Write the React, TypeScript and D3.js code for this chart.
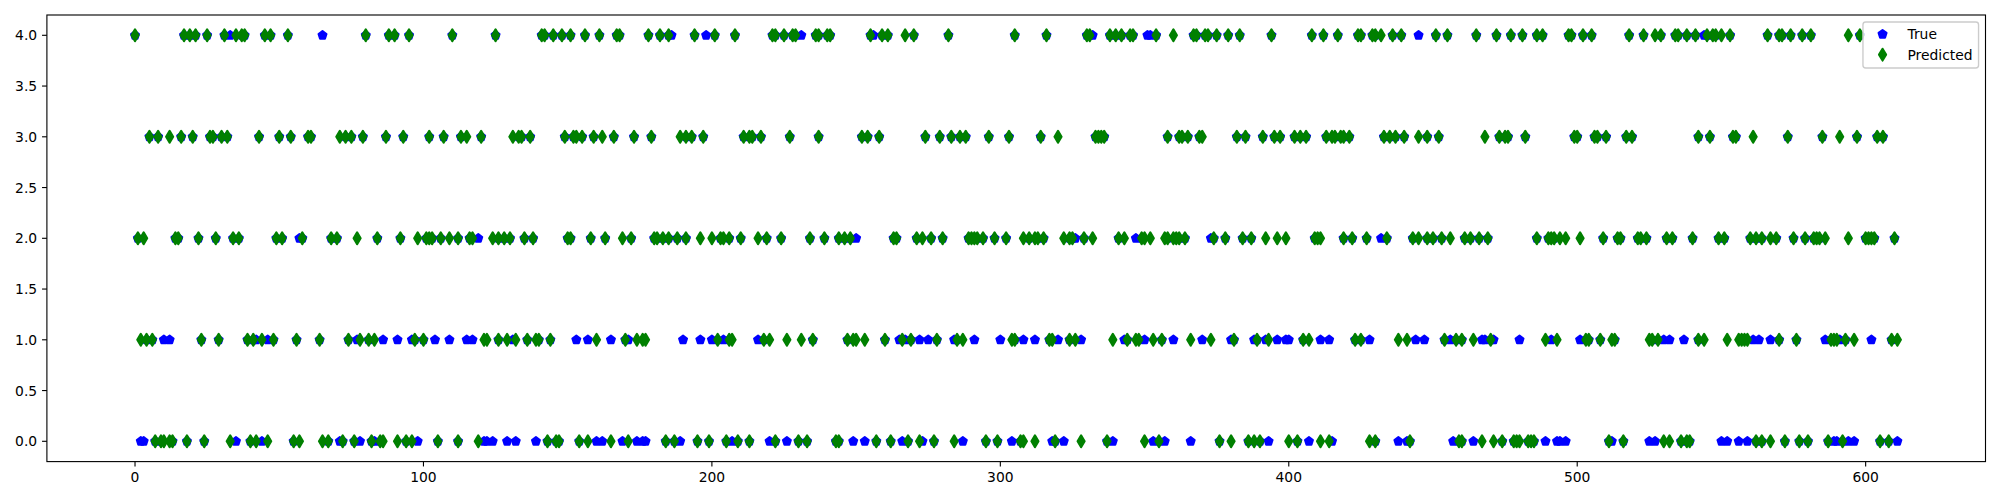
import React from 'react';
import * as d3 from 'd3';

// predicted class per sample index (green diamonds)
const pred0 = [7, 9, 10, 12, 13, 18, 24, 33, 40, 42, 46, 55, 57, 65, 67, 72, 76, 82, 85, 86, 91, 94, 96,
  105, 112, 119, 143, 146, 147, 154, 157, 165, 171, 184, 187, 195, 199, 205, 209, 213, 222, 230, 233, 243, 244,
  257, 262, 268, 272, 277, 284, 295, 299, 307, 308, 312, 319, 328, 337, 350, 355, 376, 380, 386, 388, 390, 400,
  403, 411, 414, 428, 430, 442, 459, 460, 467, 471, 474, 478, 479, 480, 483, 484, 485, 511, 516, 530, 532, 536,
  538, 539, 562, 564, 567, 572, 577, 580, 587, 592, 605, 608];
const pred1 = [2, 4, 6, 23, 29, 39, 41, 44, 48, 56, 64, 74, 78, 81, 83, 97, 100, 121, 122, 126, 129, 132, 136,
  139, 140, 144, 160, 170, 174, 176, 177, 202, 206, 207, 218, 220, 226, 231, 235, 247, 249, 250, 253, 260, 266,
  269, 278, 285, 287, 304, 305, 317, 318, 324, 326, 339, 344, 347, 348, 353, 356, 366, 373, 381, 389, 393, 405,
  407, 423, 425, 438, 441, 454, 458, 460, 464, 470, 489, 493, 503, 504, 508, 512, 513, 525, 526, 528, 542, 544,
  552, 556, 557, 558, 559, 570, 576, 588, 589, 590, 593, 596, 609, 611];
const pred2 = [1, 3, 14, 15, 22, 28, 34, 36, 49, 51, 58, 68, 70, 77, 84, 92, 98, 101, 102, 103, 106, 109, 112,
  116, 117, 124, 126, 128, 130, 135, 138, 150, 151, 158, 163, 169, 172, 180, 181, 183, 185, 188, 191, 196, 200,
  203, 204, 206, 210, 216, 219, 224, 234, 239, 244, 246, 248, 263, 264, 271, 273, 276, 280, 289, 290, 291, 292,
  294, 298, 302, 308, 310, 312, 313, 315, 322, 324, 325, 329, 332, 341, 343, 349, 350, 352, 357, 358, 360, 361,
  362, 364, 374, 378, 384, 387, 392, 396, 399, 409, 410, 411, 419, 422, 427, 434, 443, 445, 448, 450, 453, 456,
  461, 463, 466, 469, 486, 490, 491, 492, 494, 496, 501, 509, 514, 515, 521, 522, 524, 531, 533, 540, 549, 551,
  560, 562, 564, 567, 569, 575, 579, 582, 583, 584, 586, 594, 600, 601, 602, 603, 610];
const pred3 = [5, 8, 12, 16, 20, 26, 27, 30, 32, 43, 50, 54, 60, 61, 71, 73, 75, 79, 87, 93, 102, 107, 113, 115,
  120, 131, 133, 134, 137, 149, 152, 153, 155, 159, 162, 166, 173, 179, 189, 191, 193, 197, 211, 213, 214, 217,
  227, 237, 252, 254, 258, 274, 279, 283, 286, 288, 296, 303, 314, 320, 333, 334, 335, 336, 358, 362, 363, 365,
  369, 370, 382, 385, 391, 395, 397, 402, 404, 406, 413, 415, 416, 418, 419, 421, 433, 435, 437, 440, 445, 448,
  452, 468, 473, 475, 476, 482, 499, 500, 506, 507, 510, 517, 519, 542, 546, 554, 555, 561, 573, 585, 591, 597,
  604, 606];
const pred4 = [0, 17, 19, 21, 25, 31, 35, 37, 38, 45, 47, 53, 80, 88, 90, 95, 110, 125, 141, 142, 145, 148, 151,
  156, 161, 167, 168, 178, 182, 185, 194, 201, 208, 221, 222, 225, 228, 229, 236, 237, 240, 241, 255, 259, 261,
  267, 270, 282, 305, 316, 330, 331, 338, 340, 342, 345, 346, 354, 360, 367, 368, 371, 372, 375, 379, 383, 394,
  408, 412, 417, 424, 425, 429, 430, 432, 436, 439, 451, 455, 465, 472, 477, 481, 486, 488, 497, 498, 502, 505,
  518, 523, 527, 529, 534, 535, 538, 541, 545, 547, 548, 550, 553, 566, 570, 571, 574, 578, 581, 594, 598];

// true class where it differs from the prediction (blue pentagons left visible)
const true0 = [2, 3, 35, 44, 71, 78, 83, 98, 121, 122, 124, 129, 132, 139, 160, 162, 169, 174, 176, 177, 189, 207,
  220, 226, 249, 253, 266, 273, 287, 304, 318, 322, 339, 353, 357, 366, 393, 407, 415, 438, 441, 457, 464, 489,
  493, 494, 496, 512, 525, 527, 550, 552, 556, 559, 589, 590, 594, 596, 611];
const true1 = [10, 12, 42, 46, 77, 86, 91, 96, 104, 109, 115, 117, 131, 153, 157, 165, 171, 190, 196, 200, 204,
  216, 265, 267, 272, 275, 284, 291, 300, 308, 312, 320, 328, 343, 350, 360, 370, 380, 388, 392, 396, 399, 400,
  411, 414, 428, 444, 447, 456, 467, 468, 471, 480, 491, 501, 530, 532, 537, 561, 563, 567, 586, 591, 602];
const true2 = [57, 119, 250, 326, 347, 373, 432];
const true3: number[] = [];
const true4 = [33, 65, 186, 198, 231, 256, 332, 351, 352, 445, 544];

const xTicks = [0, 100, 200, 300, 400, 500, 600];
const yTicks = [0, 0.5, 1, 1.5, 2, 2.5, 3, 3.5, 4];
const seriesNames = ['True', 'Predicted'];

const W = 2000;
const H = 500;
const FS = 13.89; // 10pt
const FONT = 'DejaVu Sans, sans-serif';

const pentagon = (r: number) => {
  const pts = d3.range(5).map(k => {
    const a = -Math.PI / 2 + (k * 2 * Math.PI) / 5;
    return [r * Math.cos(a), r * Math.sin(a)];
  });
  return 'M' + pts.map(p => p.join(',')).join('L') + 'Z';
};
const thinDiamond = (s: number) => {
  const h = s * Math.SQRT1_2;
  const w = h * 0.6;
  return `M0,${-h}L${w},0L0,${h}L${-w},0Z`;
};

const SIZE = 8.33; // markersize 6pt
const PENT = pentagon(SIZE / 2);
const DIAM = thinDiamond(SIZE);

export default function App() {
  const predicted = [pred0, pred1, pred2, pred3, pred4]
    .flatMap((list, cls) => list.map(i => ({ i, v: cls })))
    .sort((a, b) => a.i - b.i);
  const mismatches = [true0, true1, true2, true3, true4]
    .flatMap((list, cls) => list.map(i => ({ i, v: cls })));
  const missIdx = new Set(mismatches.map(d => d.i));
  const truth = [...mismatches, ...predicted.filter(d => !missIdx.has(d.i))].sort((a, b) => a.i - b.i);

  const [xmin, xmax] = d3.extent(predicted, d => d.i) as [number, number];
  const xpad = (xmax - xmin) * 0.05;
  const margin = { left: 46.9, right: W - 1985.5, top: 15, bottom: H - 461.6 };
  const x = d3.scaleLinear().domain([xmin - xpad, xmax + xpad]).range([margin.left, W - margin.right]);
  const y = d3.scaleLinear().domain([-0.2, 4.2]).range([H - margin.bottom, margin.top]);

  const [x0, x1] = x.range();
  const [y0, y1] = y.range();
  const tick = 4.86;
  const pad = 4.86;

  const legW = 115.6;
  const legH = 46;
  const legX = x1 - FS * 0.5 - legW;
  const legY = y1 + FS * 0.5;

  return (
    <svg width={W} height={H} style={{ position: 'absolute', left: 0, top: 0, background: '#fff' }}>
      <rect width={W} height={H} fill="#fff" />
      <g>
        {truth.map((d, k) => (
          <path key={'t' + k} d={PENT} transform={`translate(${x(d.i)},${y(d.v)})`}
            fill="blue" stroke="blue" strokeWidth={2.08} strokeLinejoin="round" />
        ))}
        {predicted.map((d, k) => (
          <path key={'p' + k} d={DIAM} transform={`translate(${x(d.i)},${y(d.v)})`}
            fill="green" stroke="green" strokeWidth={2.08} strokeLinejoin="round" />
        ))}
      </g>
      <rect x={x0} y={y1} width={x1 - x0} height={y0 - y1} fill="none" stroke="#000" strokeWidth={1.11} />
      <g fontFamily={FONT} fontSize={FS} fill="#000">
        {xTicks.map(t => (
          <g key={'x' + t}>
            <line x1={x(t)} x2={x(t)} y1={y0} y2={y0 + tick} stroke="#000" strokeWidth={1.11} />
            <text x={x(t)} y={y0 + tick + pad + 10.6} textAnchor="middle">{t}</text>
          </g>
        ))}
        {yTicks.map(t => (
          <g key={'y' + t}>
            <line x1={x0 - tick} x2={x0} y1={y(t)} y2={y(t)} stroke="#000" strokeWidth={1.11} />
            <text x={x0 - tick - pad} y={y(t) + 5} textAnchor="end">{d3.format('.1f')(t)}</text>
          </g>
        ))}
      </g>
      <g>
        <rect x={legX} y={legY} width={legW} height={legH} rx={2.8} fill="#fff" fillOpacity={0.8}
          stroke="#cccccc" strokeWidth={1.39} />
        {seriesNames.map((name, k) => {
          const cy = legY + 12.3 + k * 20.4;
          return (
            <g key={name}>
              <path d={k === 0 ? PENT : DIAM} transform={`translate(${legX + 19.6},${cy})`}
                fill={k === 0 ? 'blue' : 'green'} stroke={k === 0 ? 'blue' : 'green'} strokeWidth={2.08}
                strokeLinejoin="round" />
              <text x={legX + 44.5} y={cy + 5} fontFamily={FONT} fontSize={FS} fill="#000">{name}</text>
            </g>
          );
        })}
      </g>
    </svg>
  );
}
